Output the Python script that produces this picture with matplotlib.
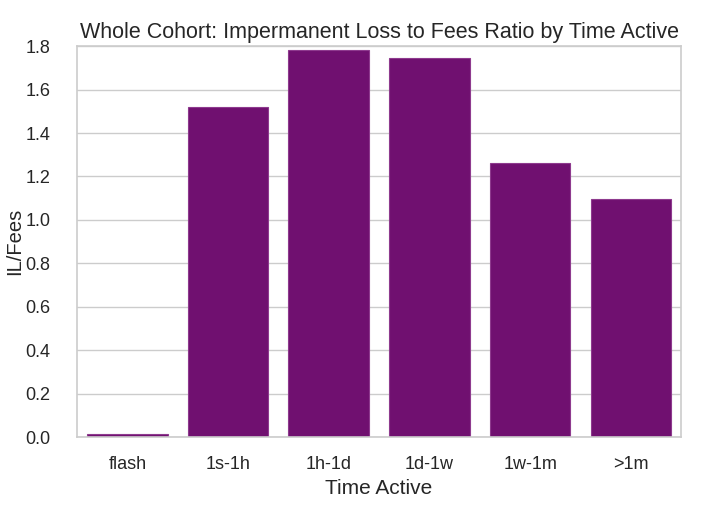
import matplotlib
matplotlib.use('Agg')
import matplotlib.pyplot as plt
import seaborn as sns
import pandas as pd

categories = ['flash', '1s-1h', '1h-1d', '1d-1w', '1w-1m', '>1m']
ratios = [0.012, 1.52, 1.78, 1.745, 1.262, 1.098]

sns.set_theme(style='whitegrid')
plt.rcParams['font.family'] = ['Liberation Sans', 'DejaVu Sans']

df = pd.DataFrame({'Time Active': categories, 'IL/Fees': ratios})

fig, ax = plt.subplots(figsize=(7.2, 5.07), dpi=100)
sns.barplot(data=df, x='Time Active', y='IL/Fees', color='purple', ax=ax,
            edgecolor='#8e3a8e', linewidth=0.8)
ax.set_ylim(0, 1.8)
ax.set_title('Whole Cohort: Impermanent Loss to Fees Ratio by Time Active',
             fontsize=15.5, color='#262626', pad=6)
ax.set_xlabel('Time Active', fontsize=15, labelpad=4)
ax.set_ylabel('IL/Fees', fontsize=14.5)
ax.yaxis.set_label_coords(-0.088, 0.5)
ax.tick_params(axis='y', labelsize=13, pad=13)
ax.tick_params(axis='x', labelsize=13, pad=8)
for s in ax.spines.values():
    s.set_color('#cccccc')
    s.set_linewidth(1.2)

fig.subplots_adjust(left=0.107, right=0.946, top=0.909, bottom=0.138)
fig.savefig('out.png', dpi=100)
